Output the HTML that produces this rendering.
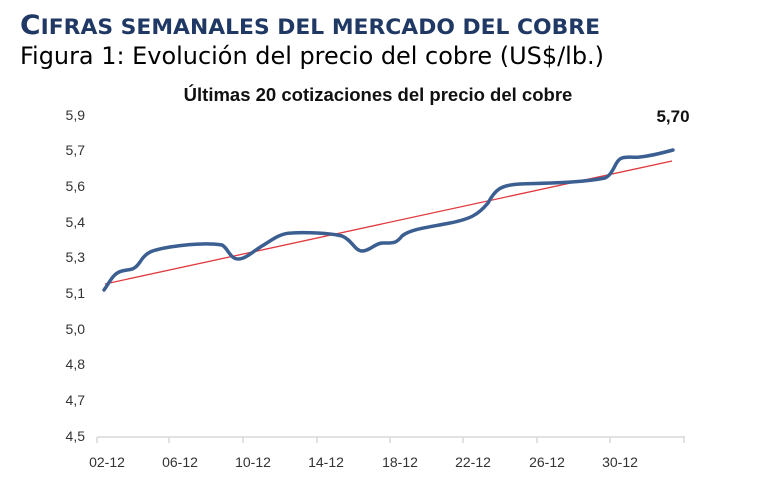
<!DOCTYPE html><html><head><meta charset="utf-8"><style>body{margin:0;background:#fff;width:772px;height:494px;overflow:hidden;font-family:"Liberation Sans","DejaVu Sans",sans-serif}</style></head><body>
<svg width="772" height="494" xmlns="http://www.w3.org/2000/svg">
<text x="20" y="34" font-family="DejaVu Sans,sans-serif" font-weight="bold" fill="#1f3864" font-size="27" textLength="580" lengthAdjust="spacingAndGlyphs">C<tspan font-size="21">IFRAS SEMANALES DEL MERCADO DEL COBRE</tspan></text>
<text x="20" y="64" font-family="DejaVu Sans,sans-serif" fill="#000" font-size="24" textLength="584" lengthAdjust="spacingAndGlyphs">Figura 1: Evolución del precio del cobre (US$/lb.)</text>
<text x="378" y="101" text-anchor="middle" font-weight="bold" font-size="18.5" fill="#111">Últimas 20 cotizaciones del precio del cobre</text>
<g font-size="14" fill="#333" text-anchor="end">
<text x="85" y="120">5,9</text><text x="85" y="155">5,7</text><text x="85" y="191">5,6</text><text x="85" y="227">5,4</text><text x="85" y="262">5,3</text><text x="85" y="298">5,1</text><text x="85" y="334">5,0</text><text x="85" y="369">4,8</text><text x="85" y="405">4,7</text><text x="85" y="441">4,5</text></g>
<line x1="97" y1="437" x2="685" y2="437" stroke="#d9d9d9" stroke-width="1.5"/>
<g stroke="#d9d9d9" stroke-width="1.5"><line x1="97" y1="437" x2="97" y2="443"/><line x1="169" y1="437" x2="169" y2="443"/><line x1="243" y1="437" x2="243" y2="443"/><line x1="317" y1="437" x2="317" y2="443"/><line x1="390" y1="437" x2="390" y2="443"/><line x1="463" y1="437" x2="463" y2="443"/><line x1="537" y1="437" x2="537" y2="443"/><line x1="610" y1="437" x2="610" y2="443"/><line x1="684" y1="437" x2="684" y2="443"/></g>
<g font-size="14" fill="#333" text-anchor="middle"><text x="107" y="467">02-12</text><text x="180" y="467">06-12</text><text x="253" y="467">10-12</text><text x="326" y="467">14-12</text><text x="400" y="467">18-12</text><text x="473" y="467">22-12</text><text x="547" y="467">26-12</text><text x="620" y="467">30-12</text></g>
<line x1="105" y1="284" x2="672" y2="161" stroke="#e0393e" stroke-width="1.3"/>
<path d="M104,290 C110,282 113,273 122,271 C130,269 134,271 140,262 C146,252 152,250 170,247 C190,244 210,243 222,245 C228,248 230,259 238,259 C246,259 252,252 262,246 C272,240 280,233 292,233 C305,232 330,233 342,236 C352,240 355,251 362,251 C370,251 375,243 383,243 C392,243 396,244 402,236 C410,229 430,227 450,223 C470,219 478,215 488,203 C495,190 500,185 520,184 C545,183 580,183 605,178 C614,174 615,160 622,158 C628,156 632,158 640,157 C650,156 662,153 673,150" fill="none" stroke="#3c5f91" stroke-width="3.5" stroke-linecap="round"/>
<text x="673" y="122" text-anchor="middle" font-weight="bold" font-size="17" fill="#111">5,70</text>
</svg></body></html>
